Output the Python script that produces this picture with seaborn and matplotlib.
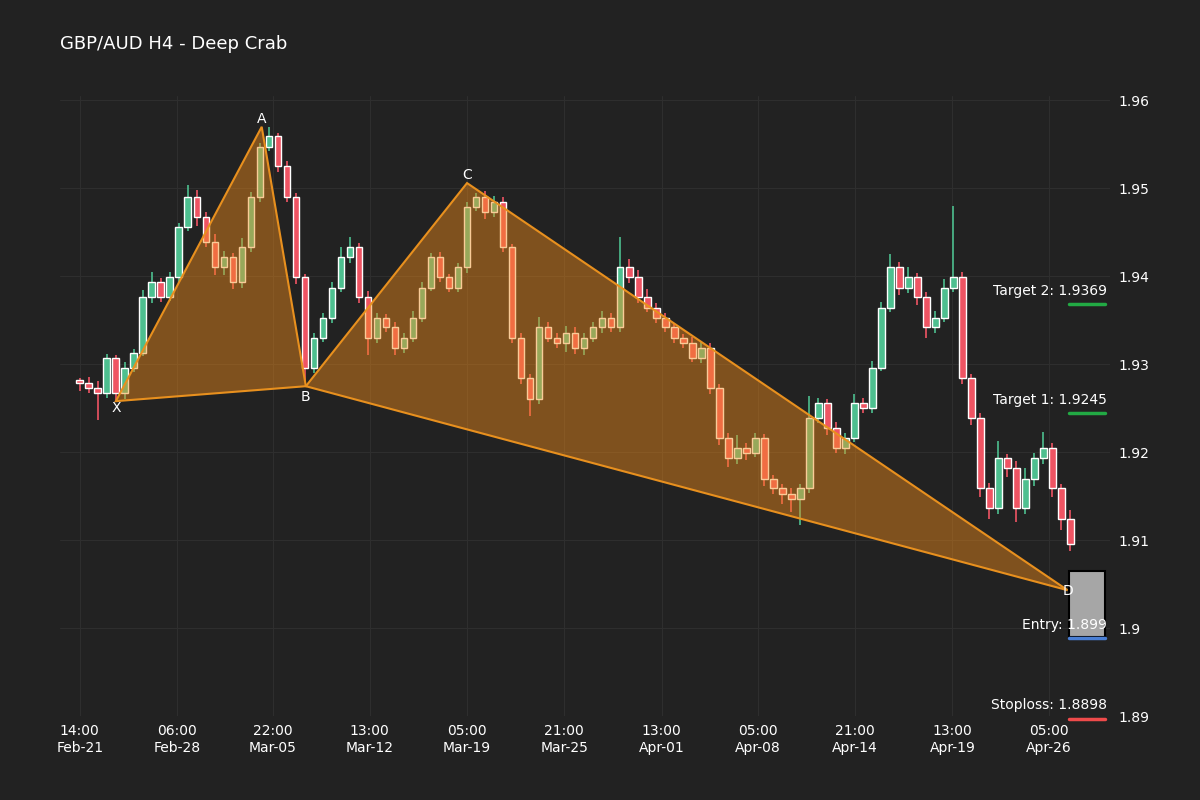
import numpy as np
import pandas as pd
import seaborn as sns
from matplotlib import pyplot as plt
from matplotlib.patches import Rectangle, Polygon

# approximate H4 closes (one candle per ~9 px)
closes = [1.9279, 1.9273, 1.9267, 1.9307, 1.9267, 1.9296, 1.9313, 1.9376, 1.9393, 1.9376,
          1.9399, 1.9456, 1.9490, 1.9467, 1.9439, 1.9410, 1.9422, 1.9393, 1.9433, 1.9490,
          1.9547, 1.9559, 1.9525, 1.9490, 1.9399, 1.9296, 1.9330, 1.9353, 1.9387, 1.9422,
          1.9433, 1.9376, 1.9330, 1.9353, 1.9342, 1.9319, 1.9330, 1.9353, 1.9387, 1.9422,
          1.9399, 1.9387, 1.9410, 1.9479, 1.9490, 1.9473, 1.9485, 1.9433, 1.9330, 1.9284,
          1.9261, 1.9342, 1.9330, 1.9324, 1.9336, 1.9319, 1.9330, 1.9342, 1.9353, 1.9342,
          1.9410, 1.9399, 1.9376, 1.9364, 1.9353, 1.9342, 1.9330, 1.9324, 1.9307, 1.9319,
          1.9273, 1.9216, 1.9193, 1.9205, 1.9199, 1.9216, 1.9170, 1.9159, 1.9153, 1.9147,
          1.9159, 1.9239, 1.9256, 1.9227, 1.9205, 1.9216, 1.9256, 1.9250, 1.9296, 1.9364,
          1.9410, 1.9387, 1.9399, 1.9376, 1.9342, 1.9353, 1.9387, 1.9399, 1.9284, 1.9239,
          1.9159, 1.9136, 1.9193, 1.9182, 1.9136, 1.9170, 1.9193, 1.9205, 1.9159, 1.9124,
          1.9096]
first_open = 1.9280
# wick sizes in pips above / below the candle body
upper_wick = [4, 6, 8, 5, 3, 6, 4, 8, 12, 5, 6, 5, 14, 8, 6, 9, 7, 5, 10, 6,
              5, 11, 4, 6, 5, 4, 6, 5, 7, 11, 12, 5, 7, 5, 4, 6, 5, 8, 7, 5,
              6, 4, 5, 6, 5, 7, 6, 5, 4, 6, 5, 12, 6, 5, 7, 6, 5, 6, 8, 5,
              35, 10, 8, 9, 6, 5, 5, 4, 7, 6, 5, 4, 6, 14, 5, 6, 5, 4, 5, 6,
              5, 25, 6, 5, 7, 6, 10, 6, 8, 7, 15, 6, 12, 5, 6, 7, 10, 81, 6, 5,
              5, 6, 20, 5, 8, 12, 6, 18, 5, 5, 10]
lower_wick = [9, 6, 30, 5, 9, 6, 5, 4, 6, 5, 4, 6, 5, 10, 6, 8, 9, 7, 6, 5,
              5, 4, 6, 5, 8, 15, 6, 5, 6, 5, 7, 6, 20, 6, 5, 9, 6, 5, 5, 4,
              6, 5, 5, 6, 5, 8, 6, 5, 6, 7, 20, 6, 5, 6, 10, 7, 8, 5, 6, 5,
              5, 7, 6, 5, 6, 5, 6, 5, 5, 6, 7, 8, 10, 6, 8, 5, 8, 6, 12, 15,
              30, 5, 6, 8, 6, 7, 5, 6, 5, 4, 5, 8, 6, 9, 12, 6, 5, 5, 6, 8,
              10, 12, 6, 10, 15, 6, 8, 6, 10, 12, 8]

tick_pos = [0, 10.8, 21.4, 32.2, 43.0, 53.8, 64.6, 75.3, 86.1, 96.9, 107.6]
tick_labels = ['14:00\nFeb-21', '06:00\nFeb-28', '22:00\nMar-05', '13:00\nMar-12',
               '05:00\nMar-19', '21:00\nMar-25', '13:00\nApr-01', '05:00\nApr-08',
               '21:00\nApr-14', '13:00\nApr-19', '05:00\nApr-26']

pattern_names = ['X', 'A', 'B', 'C', 'D']
pattern_idx = [4.0, 20.2, 25.1, 43.0, 109.7]
pattern_price = [1.9258, 1.9570, 1.9275, 1.9506, 1.9043]

entry, stoploss, target1, target2 = 1.899, 1.8898, 1.9245, 1.9369
zone_top = 1.9065

df = pd.DataFrame({'close': closes})
df['open'] = [first_open] + closes[:-1]
df['high'] = df[['open', 'close']].max(axis=1) + np.array(upper_wick) / 10000
df['low'] = df[['open', 'close']].min(axis=1) - np.array(lower_wick) / 10000
df['idx'] = np.arange(len(df))

bg = '#222222'
up_col, dn_col = '#4dbf8f', '#ef5463'
sns.set_style('dark', {'axes.facecolor': bg, 'figure.facecolor': bg,
                       'grid.color': '#2e2e2e', 'axes.grid': True})
plt.rcParams['font.family'] = ['DejaVu Sans']

fig = plt.figure(figsize=(12, 8), dpi=100)
ax = fig.add_axes([0.05, 0.105, 0.875, 0.775])
ax.set_facecolor(bg)

for _, r in df.iterrows():
    c = up_col if r['close'] >= r['open'] else dn_col
    ax.vlines(r['idx'], r['low'], r['high'], color=c, lw=1.2, zorder=2)
ax.bar(df['idx'], (df['close'] - df['open']).abs().clip(lower=0.0003),
       bottom=df[['open', 'close']].min(axis=1), width=0.75,
       color=[up_col if c >= o else dn_col for o, c in zip(df['open'], df['close'])],
       zorder=2)

# XAB and BCD triangles
for tri in ([0, 1, 2], [2, 3, 4]):
    pts = [(pattern_idx[i], pattern_price[i]) for i in tri]
    ax.add_patch(Polygon(pts, closed=True, facecolor='#f28c1a', alpha=0.45,
                         edgecolor='none', zorder=3))
    ax.add_patch(Polygon(pts, closed=True, facecolor='none', edgecolor='#e8901e',
                         lw=1.5, zorder=4))
offs = [-0.0008, 0.0009, -0.0012, 0.0009, -0.0001]
for n, xi, p, o in zip(pattern_names, pattern_idx, pattern_price, offs):
    ax.text(xi, p + o, n, color='white', fontsize=10, ha='center', va='center', zorder=6)

# entry zone and levels
zx0, zx1 = 109.8, 113.9
ax.add_patch(Rectangle((zx0, entry), zx1 - zx0, zone_top - entry, facecolor='#a6a6a6',
                       edgecolor='black', lw=1.5, zorder=5))
for lvl, col, lab in [(target2, '#22aa44', 'Target 2: 1.9369'),
                      (target1, '#22aa44', 'Target 1: 1.9245'),
                      (entry, '#4a7fd4', 'Entry: 1.899'),
                      (stoploss, '#ef4b4b', 'Stoploss: 1.8898')]:
    ax.plot([zx0, zx1], [lvl - 0.0001, lvl - 0.0001], color=col, lw=2.5, zorder=6,
            clip_on=False)
    ax.text(zx1 + 0.2, lvl + 0.0006, lab, color='white', fontsize=10, ha='right',
            va='bottom', zorder=7, clip_on=False)

ax.set_xlim(-2.2, 114.4)
ax.set_ylim(1.89, 1.9605)
ax.set_xticks(tick_pos)
ax.set_xticklabels(tick_labels, color='white', fontsize=10)
ax.set_yticks([1.89, 1.9, 1.91, 1.92, 1.93, 1.94, 1.95, 1.96])
ax.set_yticklabels(['1.89', '1.9', '1.91', '1.92', '1.93', '1.94', '1.95', '1.96'],
                   color='white', fontsize=10)
ax.yaxis.tick_right()
ax.tick_params(length=0, pad=6)
for s in ax.spines.values():
    s.set_visible(False)
ax.set_xlabel('')
ax.set_ylabel('')
fig.text(0.05, 0.945, 'GBP/AUD H4 - Deep Crab', color='white', fontsize=13, va='center')

fig.savefig('out.png', dpi=100, facecolor=bg)
